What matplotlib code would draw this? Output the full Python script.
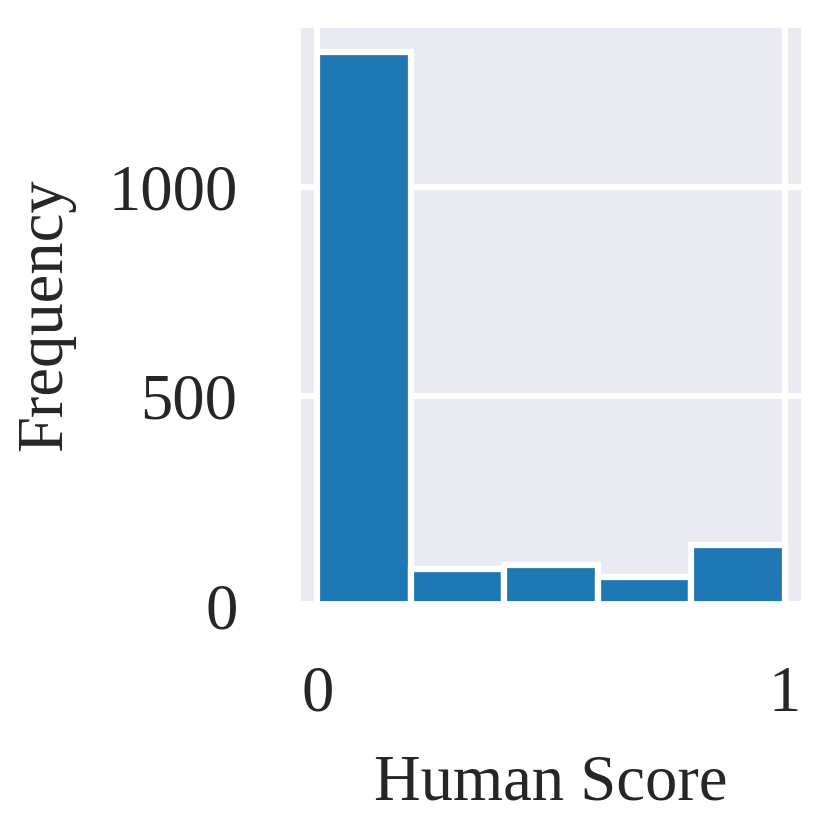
import numpy as np
import matplotlib
matplotlib.use("Agg")
import matplotlib.pyplot as plt
import seaborn as sns

# histogram counts (5 bins on [0, 1])
bin_edges = [0.0, 0.2, 0.4, 0.6, 0.8, 1.0]
counts = [1322, 88, 96, 68, 144]
x_ticks = [0, 1]
y_ticks = [0, 500, 1000]

sns.set_theme(context="talk", style="darkgrid")
plt.rcParams['font.family'] = ['Liberation Serif', 'DejaVu Serif']
plt.rcParams['mathtext.fontset'] = 'stix'

fig = plt.figure(figsize=(830 / 300, 830 / 300), dpi=300)
ax = fig.add_axes([0.358, 0.2705, 0.612, 0.7005])

ax.hist(bin_edges[:-1], bins=bin_edges, weights=counts,
        color="#1f77b4", edgecolor="white", linewidth=1.5)

ax.set_xticks(x_ticks)
ax.set_yticks(y_ticks)
ax.set_xlim(-0.043, 1.043)
ax.tick_params(labelsize=15.5, pad=5.3)
ax.set_xlabel("Human Score", fontsize=15.5, labelpad=7)
ax.set_ylabel("Frequency", fontsize=15.5, labelpad=8)

fig.savefig("out.png", dpi=300)
